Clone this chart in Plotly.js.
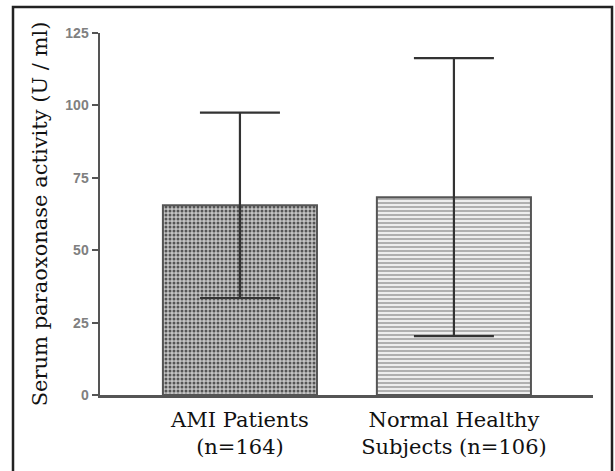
<!DOCTYPE html>
<html><head><meta charset="utf-8">
<script src="https://cdn.plot.ly/plotly-3.0.1.min.js"></script>
<style>html,body{margin:0;padding:0;background:#fff}#c{width:615px;height:471px}</style>
</head><body><div id="c"></div>
<script>
const categories = ["AMI Patients<br>(n=164)", "Normal Healthy<br>Subjects (n=106)"];
const means = [65.5, 68.3];
const sds = [32, 48];
const yTicks = [0, 25, 50, 75, 100, 125];

const W = 615, H = 471;
const m = {l: 100, r: 22, t: 33, b: 76};
const pw = W - m.l - m.r, ph = H - m.t - m.b;
const px = x => (x - m.l) / pw;
const py = y => (H - m.b - y) / ph;

const trace1 = {
  type: 'bar', x: [categories[0]], y: [means[0]], width: 0.72,
  marker: {color: '#bdbdbd', line: {color: '#555', width: 2},
    pattern: {shape: '.', fgcolor: '#555', bgcolor: '#c4c4c4', size: 4, solidity: 0.45}},
  error_y: {type: 'data', array: [sds[0]], visible: true, color: '#333', thickness: 2.2, width: 40},
  showlegend: false, hoverinfo: 'skip'
};
const trace2 = {
  type: 'bar', x: [categories[1]], y: [means[1]], width: 0.72,
  marker: {color: '#e6e6e6', line: {color: '#555', width: 2},
    pattern: {shape: '-', fgcolor: '#a0a0a0', bgcolor: '#eeeeee', size: 4, solidity: 0.4}},
  error_y: {type: 'data', array: [sds[1]], visible: true, color: '#333', thickness: 2.2, width: 40},
  showlegend: false, hoverinfo: 'skip'
};

const layout = {
  width: W, height: H, margin: m, paper_bgcolor: '#fff', plot_bgcolor: '#fff',
  showlegend: false,
  xaxis: {type: 'category', categoryorder: 'array', categoryarray: categories,
    range: [-0.654, 1.65], showline: true, linecolor: '#555', linewidth: 2.5,
    ticks: '', showgrid: false, zeroline: false, ticklabelstandoff: 4,
    tickfont: {family: 'DejaVu Serif, serif', size: 21, color: '#111'}},
  yaxis: {range: [0, 125], tickvals: yTicks, ticktext: yTicks.map(String),
    showline: true, linecolor: '#555', linewidth: 2.5, ticks: 'outside', ticklen: 6,
    tickwidth: 2, tickcolor: '#555', showgrid: false, zeroline: false,
    tickfont: {family: 'Liberation Sans, Arial, sans-serif', size: 14, color: '#808080', weight: 'bold'},
    title: {text: 'Serum paraoxonase activity (U / ml)', standoff: 12,
      font: {family: 'DejaVu Serif, serif', size: 21, color: '#111'}}},
  shapes: [{type: 'rect', xref: 'paper', yref: 'paper',
    x0: px(13), x1: px(612), y0: py(7), y1: py(478),
    line: {color: '#222', width: 2.5}, fillcolor: 'rgba(0,0,0,0)', layer: 'above'}]
};

Plotly.newPlot('c', [trace1, trace2], layout, {staticPlot: true, displayModeBar: false});
</script></body></html>
